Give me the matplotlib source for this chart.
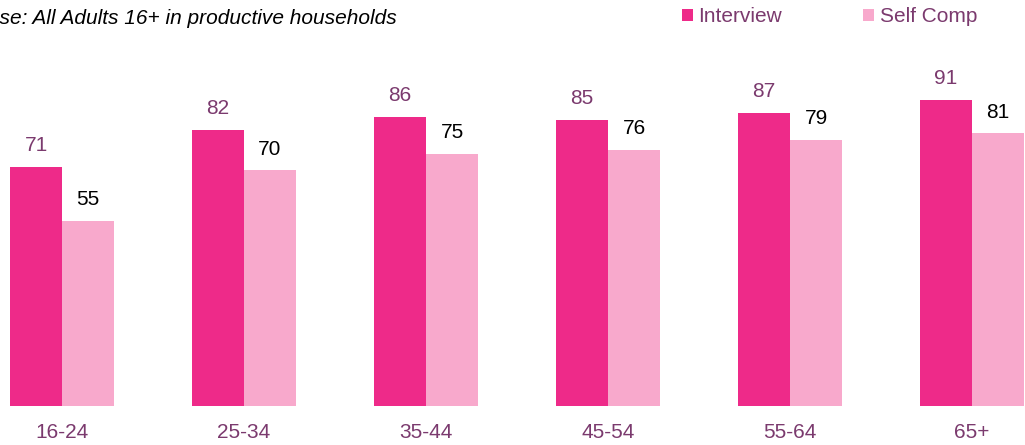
import numpy as np
import matplotlib
matplotlib.use("Agg")
import matplotlib.pyplot as plt

plt.rcParams["font.family"] = ["Liberation Sans", "DejaVu Sans"]

AGE_GROUPS = ["16-24", "25-34", "35-44", "45-54", "55-64", "65+"]
INTERVIEW = [71, 82, 86, 85, 87, 91]
SELF_COMP = [55, 70, 75, 76, 79, 81]

TITLE = "Base: All Adults 16+ in productive households"

C_INT = "#EE2A89"
C_SELF = "#F8A9CC"
C_TEXT = "#7B3A6E"
FS = 15

W_PX, H_PX = 1025, 445
fig = plt.figure(figsize=(W_PX / 100, H_PX / 100), dpi=100)
ax = fig.add_axes([0, 39 / H_PX, 1, 406 / H_PX])

x = np.arange(len(AGE_GROUPS))
w = 52 / 182

b1 = ax.bar(x - w / 2, INTERVIEW, width=w, color=C_INT, label="Interview")
b2 = ax.bar(x + w / 2, SELF_COMP, width=w, color=C_SELF, label="Self Comp")

for rect, v in zip(b1, INTERVIEW):
    ax.annotate(str(v), (rect.get_x() + rect.get_width() / 2, v),
                xytext=(0, 8.5), textcoords="offset points",
                ha="center", va="bottom", fontsize=FS, color=C_TEXT)
for rect, v in zip(b2, SELF_COMP):
    ax.annotate(str(v), (rect.get_x() + rect.get_width() / 2, v),
                xytext=(0, 8.5), textcoords="offset points",
                ha="center", va="bottom", fontsize=FS, color="black")

ax.set_xlim(-62 / 182, -62 / 182 + W_PX / 182)
ax.set_ylim(0, 406 / 3.366)
ax.set_xticks(x)
ax.set_xticklabels(AGE_GROUPS, fontsize=FS, color=C_TEXT)
ax.tick_params(axis="x", length=0, pad=12.5)
ax.set_yticks([])
for s in ax.spines.values():
    s.set_visible(False)

# title is cut at the left edge in the original ("Ba" hidden)
renderer = fig.canvas.get_renderer()
probe = fig.text(0, 0, "Ba", fontsize=15, style="italic")
ba_w = probe.get_window_extent(renderer).width
probe.remove()
fig.text(-ba_w / W_PX, 1 - 24 / H_PX, TITLE, fontsize=15, style="italic",
         color="black", ha="left", va="baseline")

fig.legend(loc="center left", bbox_to_anchor=(682 / W_PX, 1 - 17 / H_PX), ncol=2,
           frameon=False, fontsize=FS, handlelength=0.53, handleheight=0.53,
           handletextpad=0.25, columnspacing=3.9, borderpad=0, borderaxespad=0,
           labelcolor=C_TEXT)

fig.savefig("out.png", dpi=100)
